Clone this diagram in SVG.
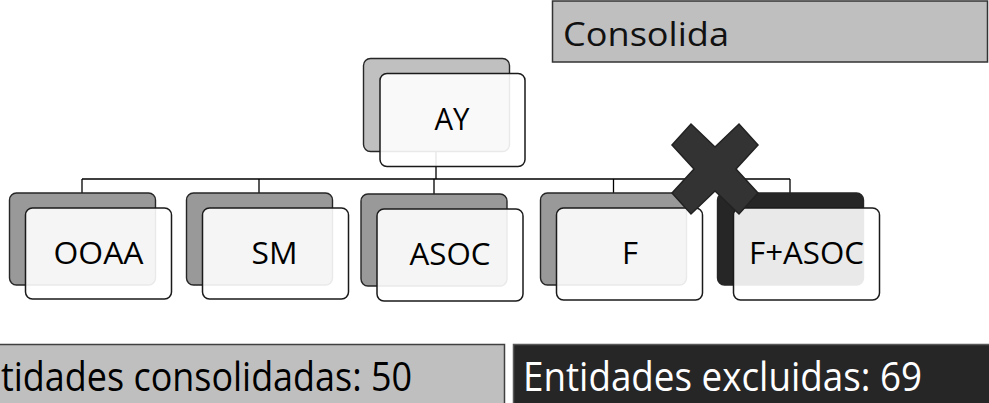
<svg xmlns="http://www.w3.org/2000/svg" width="989" height="403" viewBox="0 0 989 403">
<style>
.back{stroke:#262626;stroke-width:1.4}
.front{fill:#ffffff;fill-opacity:0.9;stroke:#1a1a1a;stroke-width:1.5}
.lbl{font-family:"Open Sans","Liberation Sans",Arial,sans-serif;font-size:31px;fill:#000;text-anchor:middle}
.big{font-family:"Open Sans","Liberation Sans",Arial,sans-serif;font-size:40px}
.conn{fill:none;stroke:#000;stroke-width:1.3}
</style>
<rect width="989" height="403" fill="#ffffff"/>
<g id="consolida">
<rect x="552.5" y="1" width="435" height="61" fill="#bfbfbf" stroke="#333333" stroke-width="1.5"/>
<text x="563" y="46" font-family="Open Sans, Liberation Sans, Arial, sans-serif" font-size="33" fill="#111" textLength="166" lengthAdjust="spacingAndGlyphs">Consolida</text>
</g>
<g id="connectors">
<path class="conn" d="M436,151 V179 M82,179 H790 M82,179 V193 M259,179 V193 M434,179 V194 M613.5,179 V193 M790,179 V193"/>
</g>
<g id="node-AY">
<rect class="back" x="363.5" y="58.5" width="146" height="93" rx="7" fill="#c0c0c0"/>
<rect class="front" x="380" y="73.5" width="145" height="93" rx="7"/>
<text class="lbl" x="452" y="130" textLength="35" lengthAdjust="spacingAndGlyphs">AY</text>
</g>
<g id="node-OOAA">
<rect class="back" x="9.5" y="193" width="146" height="92" rx="7" fill="#999999"/>
<rect class="front" x="25.5" y="208" width="146" height="91" rx="7"/>
<text class="lbl" x="98.5" y="263.5" textLength="90" lengthAdjust="spacingAndGlyphs">OOAA</text>
</g>
<g id="node-SM">
<rect class="back" x="186.5" y="193" width="146" height="92" rx="7" fill="#999999"/>
<rect class="front" x="202.5" y="208" width="146" height="91" rx="7"/>
<text class="lbl" x="274.5" y="263.5" textLength="46" lengthAdjust="spacingAndGlyphs">SM</text>
</g>
<g id="node-ASOC">
<rect class="back" x="361" y="194" width="146" height="92" rx="7" fill="#999999"/>
<rect class="front" x="377" y="209" width="146" height="92" rx="7"/>
<text class="lbl" x="450" y="264.5" textLength="81" lengthAdjust="spacingAndGlyphs">ASOC</text>
</g>
<g id="node-F">
<rect class="back" x="540.5" y="193" width="146" height="92" rx="7" fill="#999999"/>
<rect class="front" x="556.5" y="208" width="146" height="92" rx="7"/>
<text class="lbl" x="630" y="263.5">F</text>
</g>
<g id="node-FASOC">
<rect class="back" x="717.5" y="193" width="146" height="92" rx="7" fill="#262626"/>
<rect class="front" x="733.5" y="208" width="146" height="92" rx="7"/>
<text class="lbl" x="806.5" y="263.5" textLength="115" lengthAdjust="spacingAndGlyphs">F+ASOC</text>
</g>
<g id="cross">
<polygon points="672,145 691,124 715,147 739,124 758,145 736,169 758,193 739,214 715,191 691,214 672,193 694,169" fill="#333333" stroke="#222222" stroke-width="1.5" stroke-linejoin="miter"/>
</g>
<g id="consolidadas">
<rect x="-10" y="344.5" width="514.5" height="70" fill="#bfbfbf" stroke="#404040" stroke-width="1.5"/>
<text class="big" x="1" y="390.5" fill="#000" textLength="411" lengthAdjust="spacingAndGlyphs">tidades consolidadas: 50</text>
</g>
<g id="excluidas">
<rect x="513.5" y="344.5" width="486" height="70" fill="#262626" stroke="#595959" stroke-width="1.5"/>
<text class="big" x="523" y="390.5" fill="#ffffff" textLength="399" lengthAdjust="spacingAndGlyphs">Entidades excluidas: 69</text>
</g>
</svg>
